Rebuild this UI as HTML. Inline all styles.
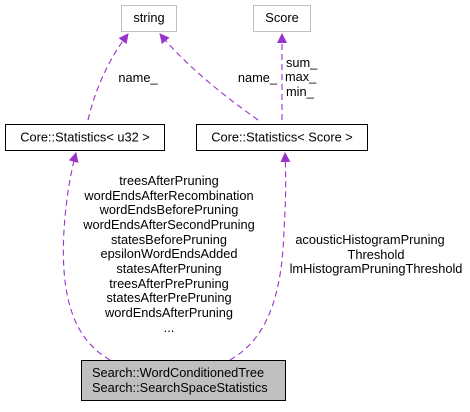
<!DOCTYPE html>
<html><head><style>
body{margin:0;background:#fff;}
svg text{font-family:"Liberation Sans",sans-serif;font-size:12.8px;fill:#000;}
</style></head><body>
<svg width="470" height="407" viewBox="0 0 470 407" xmlns="http://www.w3.org/2000/svg">
<defs><marker id="a" markerWidth="10" markerHeight="10" refX="9" refY="5" orient="auto" markerUnits="userSpaceOnUse"><path d="M0,0 L10,5 L0,10 z" fill="#9a32cd"/></marker></defs>
<g fill="none" stroke="#9a32cd" stroke-width="1.1" stroke-dasharray="6,4">
<path d="M88,120 C95,90 108,60 128,34" marker-end="url(#a)"/>
<path d="M258,120 C230,100 190,70 160,34" marker-end="url(#a)"/>
<path d="M282,120 L282,34" marker-end="url(#a)"/>
<path d="M110,360 C75,340 60,300 64,230 C66,200 70,175 76,153" marker-end="url(#a)"/>
<path d="M230,360 C265,340 282,300 284,230 C286,200 286,175 285,153" marker-end="url(#a)"/>
</g>
<rect x="121.5" y="5.5" width="55" height="26" fill="#fff" stroke="#bfbfbf"/>
<text x="149" y="22" text-anchor="middle">string</text>
<rect x="253.5" y="5.5" width="57" height="26" fill="#fff" stroke="#bfbfbf"/>
<text x="282" y="22" text-anchor="middle">Score</text>
<rect x="5.5" y="124.5" width="159" height="26" fill="#fff" stroke="#000"/>
<text x="85" y="141.5" text-anchor="middle">Core::Statistics&lt; u32 &gt;</text>
<rect x="196.5" y="124.5" width="171" height="26" fill="#fff" stroke="#000"/>
<text x="282" y="141.5" text-anchor="middle">Core::Statistics&lt; Score &gt;</text>
<rect x="81.5" y="360.5" width="204" height="40" fill="#bfbfbf" stroke="#000"/>
<text x="92" y="377">Search::WordConditionedTree</text>
<text x="92" y="392">Search::SearchSpaceStatistics</text>
<text x="138" y="82" text-anchor="middle">name_</text>
<text x="277" y="82" text-anchor="end">name_</text>
<text x="286" y="67">sum_</text>
<text x="285" y="81">max_</text>
<text x="286" y="96">min_</text>
<g text-anchor="middle">
<text x="169" y="185">treesAfterPruning</text>
<text x="169" y="200">wordEndsAfterRecombination</text>
<text x="169" y="214">wordEndsBeforePruning</text>
<text x="169" y="229">wordEndsAfterSecondPruning</text>
<text x="169" y="244">statesBeforePruning</text>
<text x="169" y="258">epsilonWordEndsAdded</text>
<text x="169" y="273">statesAfterPruning</text>
<text x="169" y="288">treesAfterPrePruning</text>
<text x="169" y="302">statesAfterPrePruning</text>
<text x="169" y="317">wordEndsAfterPruning</text>
<text x="169" y="332">...</text>
<text x="370" y="244">acousticHistogramPruning</text>
<text x="376" y="259">Threshold</text>
<text x="376" y="273">lmHistogramPruningThreshold</text>
</g>
</svg>
</body></html>
